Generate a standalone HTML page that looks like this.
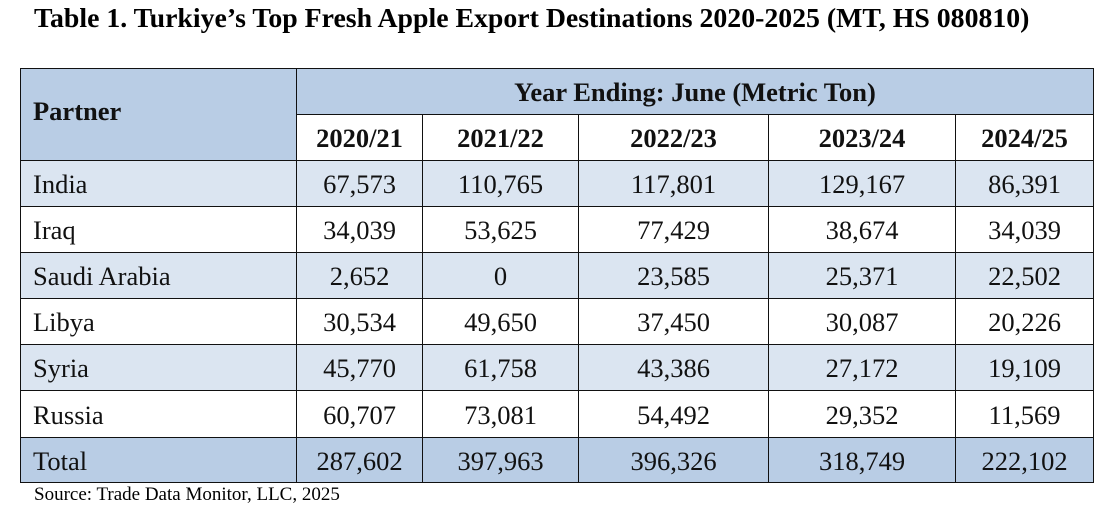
<!DOCTYPE html>
<html><head><meta charset="utf-8"><style>
body{margin:0;width:1100px;height:524px;background:#fff;font-family:"Liberation Serif",serif;position:relative;overflow:hidden}
.t{position:absolute;left:34px;top:3px;font-size:27.8px;font-weight:bold;white-space:nowrap}
.c{position:absolute;box-sizing:border-box;border:1.5px solid #111;display:flex;align-items:center;justify-content:center;font-size:26.5px;color:#111;padding-top:2px}
.l{justify-content:flex-start;padding-left:12px}
.b{font-weight:bold}
.src{position:absolute;left:34px;top:484px;font-size:19px}
</style></head><body>
<div class="t">Table 1. Turkiye’s Top Fresh Apple Export Destinations 2020-2025 (MT, HS 080810)</div>
<div id="tbl"></div>
<div class="src">Source: Trade Data Monitor, LLC, 2025</div>
<script>
const years=["2020/21","2021/22","2022/23","2023/24","2024/25"];
const partners=["India","Iraq","Saudi Arabia","Libya","Syria","Russia","Total"];
const values=[
["67,573","110,765","117,801","129,167","86,391"],
["34,039","53,625","77,429","38,674","34,039"],
["2,652","0","23,585","25,371","22,502"],
["30,534","49,650","37,450","30,087","20,226"],
["45,770","61,758","43,386","27,172","19,109"],
["60,707","73,081","54,492","29,352","11,569"],
["287,602","397,963","396,326","318,749","222,102"]];
const xs=[20,296,422,578,768,955,1093];
const rowTops=[160,206,252,298,344,390,437,482];
const tbl=document.getElementById('tbl');
function cell(x,y,w,h,txt,bg,cls){const d=document.createElement('div');d.className='c '+(cls||'');
d.style.left=x+'px';d.style.top=y+'px';d.style.width=(w+1)+'px';d.style.height=(h+1)+'px';d.style.background=bg;d.textContent=txt;tbl.appendChild(d);return d;}
const H='#b9cde5',L='#dbe5f1';
let d=cell(20,68,276,92,'Partner',H,'l b');d.style.paddingBottom='8px';


d=cell(296,68,797,46,'Year Ending: June (Metric Ton)',H,'b');


years.forEach((y,i)=>{const e=cell(xs[i+1],114,xs[i+2]-xs[i+1],46,y,'#fff','b');

});
partners.forEach((p,r)=>{const bg=r==6?H:(r%2==0?L:'#fff');const y=rowTops[r],h=rowTops[r+1]-y;
const e=cell(20,y,276,h,p,bg,'l');


values[r].forEach((v,i)=>{const f=cell(xs[i+1],y,xs[i+2]-xs[i+1],h,v,bg);

});});
</script>
</body></html>
